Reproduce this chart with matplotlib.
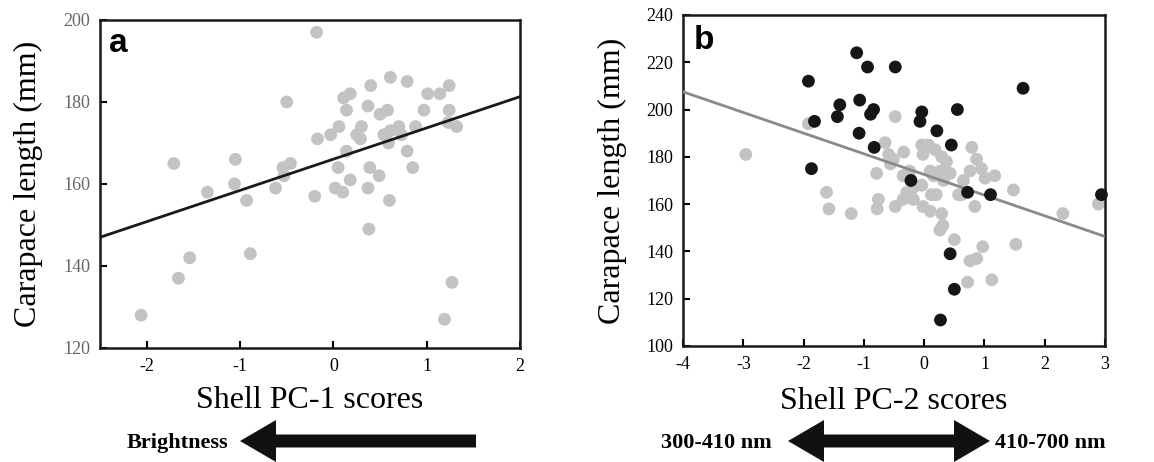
import numpy as np
import matplotlib.pyplot as plt

# panel a: shell PC-1 vs carapace length
pc1 = [-0.18, -1.71, -1.05, -0.50, 0.61, 0.79, 0.40, 1.24, 1.01, 1.14,
       0.11, 0.18, 0.14, 0.37, 0.50, 0.58, 0.97, 1.24, 1.23, 1.32,
       0.06, -0.03, 0.30, 0.25, 0.29, -0.17, 0.54, 0.61, 0.70, 0.73,
       0.59, 0.88, 0.14, 0.79, 0.85, 0.05, 0.39, 0.49, 0.18, 0.02,
       0.10, 0.37, -0.54, -0.46, -0.53, -0.62, -1.06, -1.35, -0.93, -0.20,
       0.60, 0.38, -0.89, -1.54, -1.66, -2.06, 1.27, 1.19]
len_a = [197, 165, 166, 180, 186, 185, 184, 184, 182, 182,
         181, 182, 178, 179, 177, 178, 178, 178, 175, 174,
         174, 172, 174, 172, 171, 171, 172, 173, 174, 172,
         170, 174, 168, 168, 164, 164, 164, 162, 161, 159,
         158, 159, 164, 165, 162, 159, 160, 158, 156, 157,
         156, 149, 143, 142, 137, 128, 136, 127]
fit_a_x = [-2.5, 2.0]
fit_a_y = [147.0, 181.3]

# panel b: shell PC-2, grey and black groups
pc2_grey = [-2.96, -1.92, -1.62, -1.58, -1.21, -0.79, -0.76, -0.78, -0.48, -0.48,
            -0.65, -0.59, -0.51, -0.34, -0.56, -0.04, 0.07, -0.02, 0.18, 0.29,
            0.37, 0.79, 0.87, 0.76, 0.95, 1.01, 1.17, -0.24, -0.35, 0.10,
            0.26, 0.43, 0.32, 0.15, -0.04, 0.65, 0.57, 1.48, -0.29, -0.18,
            -0.35, 0.12, 0.20, -0.02, 0.10, 0.29, 0.84, 2.30, 2.89, 0.31,
            0.26, 0.50, 0.97, 0.76, 0.87, 0.72, 1.12, 1.52, -0.18, 0.62, -0.24]
len_grey = [181, 194, 165, 158, 156, 173, 162, 158, 159, 197,
            186, 181, 179, 182, 177, 185, 185, 181, 183, 180,
            178, 184, 179, 174, 175, 171, 172, 174, 172, 174,
            174, 173, 170, 172, 168, 170, 164, 166, 165, 162,
            162, 164, 164, 159, 157, 156, 159, 156, 160, 151,
            149, 145, 142, 136, 137, 127, 128, 143, 167, 164, 164]
pc2_black = [-1.12, -0.94, -0.48, -1.92, 1.64, -1.40, -1.44, -1.07, -0.84, -0.89,
             -0.04, -0.07, 0.55, -1.82, 0.21, -1.08, -0.83, 0.45, -1.87, -0.22,
             0.72, 1.10, 2.94, 0.43, 0.50, 0.27]
len_black = [224, 218, 218, 212, 209, 202, 197, 204, 200, 198,
             199, 195, 200, 195, 191, 190, 184, 185, 175, 170,
             165, 164, 164, 139, 124, 111]
fit_b_x = [-4.0, 3.0]
fit_b_y = [207.5, 146.3]

grey = "#c3c3c3"
black = "#161616"
serif = "Liberation Serif"

fig = plt.figure(figsize=(11.54, 4.62), dpi=100)

ax1 = fig.add_axes([0.0867, 0.2468, 0.364, 0.710])
ax1.scatter(pc1, len_a, s=85, color=grey, edgecolors="none", zorder=2)
ax1.plot(fit_a_x, fit_a_y, color="#1a1a1a", lw=2, zorder=3)
ax1.set_xlim(-2.5, 2)
ax1.set_ylim(120, 200)
ax1.set_xticks([-2, -1, 0, 1, 2])
ax1.set_yticks([120, 140, 160, 180, 200])
ax1.set_xticklabels(["-2", "-1", "0", "1", "2"])
for lab in ax1.get_yticklabels():
    lab.set_color("#666666")
ax1.text(0.022, 0.975, "a", transform=ax1.transAxes, fontsize=24,
         fontweight="bold", family="Liberation Sans", va="top", ha="left")
ax1.set_xlabel("Shell PC-1 scores", family=serif, fontsize=23)
ax1.set_ylabel("Carapace length (mm)", family=serif, fontsize=23)
ax1.xaxis.set_label_coords(0.5, -0.115)
ax1.yaxis.set_label_coords(-0.136, 0.5)

ax2 = fig.add_axes([0.5919, 0.2511, 0.3657, 0.7165])
ax2.scatter(pc2_grey, len_grey, s=85, color=grey, edgecolors="none", zorder=2)
ax2.plot(fit_b_x, fit_b_y, color="#8a8a8a", lw=2, zorder=3)
ax2.scatter(pc2_black, len_black, s=85, color=black, edgecolors="none", zorder=4,
            clip_on=False)
ax2.set_xlim(-4, 3)
ax2.set_ylim(100, 240)
ax2.set_xticks(range(-4, 4))
ax2.set_xticklabels([str(v) for v in range(-4, 4)])
ax2.set_yticks(range(100, 241, 20))
ax2.text(0.026, 0.97, "b", transform=ax2.transAxes, fontsize=24,
         fontweight="bold", family="Liberation Sans", va="top", ha="left")
ax2.set_xlabel("Shell PC-2 scores", family=serif, fontsize=23)
ax2.set_ylabel("Carapace length (mm)", family=serif, fontsize=23)
ax2.xaxis.set_label_coords(0.5, -0.125)
ax2.yaxis.set_label_coords(-0.132, 0.5)

for ax in (ax1, ax2):
    for sp in ax.spines.values():
        sp.set_linewidth(1.8)
        sp.set_color("#1a1a1a")
    ax.tick_params(direction="in", length=5, width=1.5, labelsize=13, pad=7)
    for lab in ax.get_xticklabels() + ax.get_yticklabels():
        lab.set_family(serif)

# arrows under the x labels, drawn in pixel space
ov = fig.add_axes([0, 0, 1, 1], zorder=-1)
ov.set_xlim(0, 1154)
ov.set_ylim(462, 0)
ov.axis("off")
arrow_kw = dict(width=13, head_width=42, head_length=36, length_includes_head=True,
                color="#111111", lw=0)
ov.arrow(476, 441, -236, 0, **arrow_kw)
ov.arrow(889, 441, -101, 0, **arrow_kw)
ov.arrow(889, 441, 101, 0, **arrow_kw)
ov.text(228, 443, "Brightness", family=serif, fontweight="bold", fontsize=16,
        ha="right", va="center")
ov.text(772, 443, "300-410 nm", family=serif, fontweight="bold", fontsize=16,
        ha="right", va="center")
ov.text(995, 443, "410-700 nm", family=serif, fontweight="bold", fontsize=16,
        ha="left", va="center")

fig.savefig("out.png", dpi=100)
